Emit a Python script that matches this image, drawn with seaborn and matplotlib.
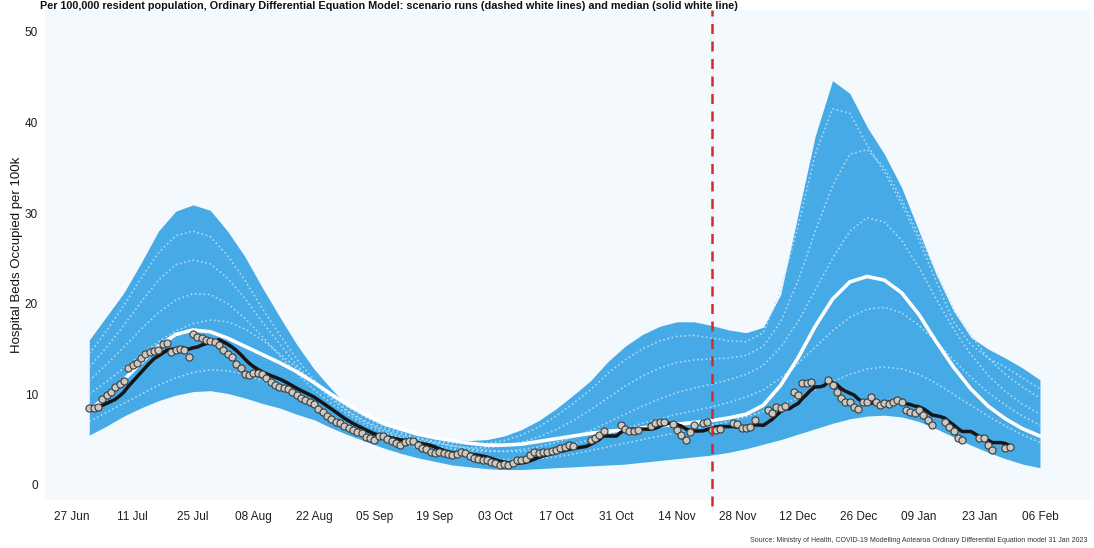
import numpy as np
import pandas as pd
import matplotlib
matplotlib.use("Agg")
import matplotlib.pyplot as plt
import matplotlib.dates as mdates
import seaborn as sns

# ---------------------------------------------------------------------------
# Data
# ---------------------------------------------------------------------------
# Model output sampled every 4 days from 1 Jul 2022
model_start = "2022-07-01"
model_step_days = 4

band_upper = [16.0, 18.6, 21.2, 24.5, 28.0, 30.2, 30.9, 30.3, 28.0, 25.2,
              21.8, 18.6, 15.5, 12.8, 10.6, 8.6, 7.5, 6.6, 6.0, 5.5,
              5.2, 5.0, 4.9, 5.0, 5.4, 6.1, 7.1, 8.4, 9.9, 11.5,
              13.6, 15.3, 16.6, 17.5, 18.0, 18.0, 17.6, 17.1, 16.8, 17.4,
              21.0, 29.8, 38.5, 44.6, 43.2, 39.5, 36.5, 32.8, 28.0, 23.2,
              19.2, 16.3, 15.0, 14.0, 12.9, 11.6]

band_lower = [5.5, 6.5, 7.6, 8.5, 9.3, 9.9, 10.3, 10.4, 10.1, 9.6,
              9.0, 8.5, 7.8, 7.2, 6.3, 5.5, 4.8, 4.1, 3.5, 3.0,
              2.6, 2.2, 2.0, 1.8, 1.7, 1.7, 1.8, 1.9, 2.0, 2.1,
              2.2, 2.3, 2.5, 2.7, 2.9, 3.1, 3.3, 3.6, 4.0, 4.5,
              5.0, 5.6, 6.2, 6.8, 7.3, 7.6, 7.7, 7.5, 7.0, 6.2,
              5.3, 4.4, 3.6, 2.9, 2.3, 1.9]

median_run = [8.2, 9.8, 11.6, 13.5, 15.3, 16.6, 17.1, 16.9, 16.2, 15.3,
              14.4, 13.5, 12.5, 11.3, 10.0, 8.8, 7.8, 6.9, 6.2, 5.6,
              5.2, 4.9, 4.6, 4.4, 4.4, 4.5, 4.8, 5.1, 5.4, 5.7,
              5.9, 6.1, 6.3, 6.5, 6.7, 6.9, 7.1, 7.4, 7.8, 8.8,
              11.0, 14.0, 17.5, 20.5, 22.4, 23.0, 22.6, 21.2, 18.8, 15.8,
              13.0, 10.6, 8.7, 7.3, 6.2, 5.4]

scenario_a = [14.5, 17.0, 19.8, 22.8, 25.6, 27.5, 28.0, 27.4, 25.3, 22.6, 19.5,
              16.6, 13.9, 11.6, 9.7, 8.1, 7.0, 6.2, 5.6, 5.1, 4.8,
              4.6, 4.5, 4.6, 4.9, 5.5, 6.4, 7.6, 9.0, 10.5, 12.3,
              13.8, 15.0, 15.9, 16.4, 16.5, 16.2, 15.9, 15.8, 16.8,
              21.5, 28.5, 36.5, 41.5, 41.0, 37.5, 34.5, 31.0, 27.0, 22.5,
              18.0, 15.5, 14.0, 13.0, 11.8, 10.6]
scenario_b = [13.0, 15.2, 17.6, 20.2, 22.6, 24.3, 24.8, 24.4, 22.8, 20.6, 18.0,
              15.6, 13.2, 11.2, 9.5, 8.0, 6.9, 6.0, 5.4, 4.9, 4.6,
              4.3, 4.1, 4.1, 4.3, 4.7, 5.3, 6.1, 7.1, 8.3, 9.6,
              10.9, 12.0, 12.9, 13.5, 13.8, 13.9, 14.0, 14.3, 15.3,
              18.0, 22.5, 28.0, 33.0, 36.5, 37.0, 35.0, 31.5, 27.5, 23.5,
              19.5, 16.5, 14.0, 12.2, 10.8, 9.6]
scenario_c = [11.5, 13.3, 15.2, 17.2, 19.0, 20.4, 21.1, 21.0, 20.0, 18.4, 16.4,
              14.3, 12.3, 10.5, 9.0, 7.7, 6.6, 5.8, 5.2, 4.7, 4.3,
              4.0, 3.8, 3.7, 3.7, 3.9, 4.2, 4.7, 5.3, 6.0, 6.9,
              7.8, 8.7, 9.5, 10.2, 10.7, 11.1, 11.6, 12.2, 13.2,
              15.2, 18.0, 21.5, 25.0, 28.0, 29.5, 29.0, 27.0, 24.0, 20.5,
              17.2, 14.4, 12.1, 10.3, 8.9, 7.8]
scenario_d = [10.0, 11.4, 12.9, 14.4, 15.8, 17.0, 17.8, 18.2, 18.0, 17.2, 16.0,
              14.5, 12.9, 11.3, 9.8, 8.5, 7.4, 6.5, 5.8, 5.2, 4.7,
              4.3, 4.0, 3.8, 3.7, 3.7, 3.8, 4.1, 4.5, 5.0, 5.6,
              6.2, 6.8, 7.3, 7.8, 8.2, 8.6, 9.1, 9.7, 10.5,
              11.8, 13.4, 15.2, 17.0, 18.5, 19.4, 19.6, 19.0, 17.6, 15.8,
              13.8, 11.9, 10.2, 8.8, 7.6, 6.6]
scenario_e = [7.0, 8.0, 9.0, 10.0, 11.0, 11.8, 12.4, 12.7, 12.6, 12.2, 11.5,
              10.6, 9.6, 8.6, 7.6, 6.7, 5.9, 5.2, 4.6, 4.1, 3.7,
              3.4, 3.1, 2.9, 2.8, 2.8, 2.9, 3.1, 3.4, 3.8, 4.2,
              4.6, 5.0, 5.4, 5.8, 6.2, 6.6, 7.0, 7.5, 8.1,
              8.8, 9.6, 10.5, 11.4, 12.2, 12.8, 13.0, 12.8, 12.2, 11.2,
              10.0, 8.8, 7.6, 6.5, 5.5, 4.7]
scenario_runs = [scenario_a, scenario_b, scenario_c, scenario_d, scenario_e]

# Reported daily occupancy per 100k from 1 Jul 2022 (NaN = no report)
obs_start = "2022-07-01"
nan = np.nan
obs_values = [
    8.5, 8.5, 8.6, 9.5, 9.9, 10.3, 10.8, 11.1, 11.5, 12.9,
    13.2, 13.5, 14.0, 14.5, 14.7, 14.8, 14.9, 15.5, 15.7, 14.7,
    14.9, 15.0, 14.9, 14.1, 16.6, 16.3, 16.2, 16.0, 15.9, 15.8,
    15.4, 14.9, 14.5, 14.1, 13.3, 12.9, 12.2, 12.1, 12.3, 12.4,
    12.2, 11.8, 11.4, 11.0, 10.8, 10.7, 10.6, 10.3, 9.9, 9.6,
    9.4, 9.2, 8.9, 8.4, 8.0, 7.6, 7.3, 7.0, 6.8, 6.5,
    6.3, 6.1, 5.8, 5.7, 5.3, 5.2, 5.0, 5.4, 5.4, 5.1,
    4.9, 4.6, 4.4, 4.7, 4.9, 4.8, 4.4, 4.1, 4.0, 3.6,
    3.5, 3.6, 3.5, 3.4, 3.3, 3.4, 3.6, 3.5, 3.2, 3.0,
    2.9, 2.7, 2.7, 2.5, 2.4, 2.2, 2.3, 2.2, 2.4, 2.7,
    2.8, 2.9, 3.3, 3.6, 3.5, 3.6, 3.6, 3.7, 3.9, 4.1,
    4.2, 4.4, 4.3, nan, nan, nan, 5.0, 5.2, 5.5, 5.9,
    nan, nan, nan, 6.6, 6.2, 5.9, 6.0, 6.1, nan, nan,
    6.5, 6.8, 6.9, 7.0, nan, 6.7, 6.1, 5.5, 5.0, 5.8,
    6.6, nan, 6.8, 7.0, 6.1, 6.1, 6.2, nan, nan, 6.8,
    6.7, 6.3, 6.3, 6.4, 7.2, nan, nan, 8.3, 7.9, 8.6,
    8.5, 8.7, nan, 10.3, 9.9, 11.2, 11.3, 11.4, nan, nan,
    nan, 11.6, 11.0, 10.3, 9.6, 9.2, 9.1, 8.6, 8.4, 9.1,
    9.2, 9.7, 9.1, 8.8, 9.0, 8.9, 9.2, 9.4, 9.2, 8.3,
    8.1, 7.9, 8.3, 7.7, 7.2, 6.6, nan, nan, 7.0, 6.4,
    5.9, 5.2, 5.0, nan, nan, nan, 5.2, 5.2, 4.4, 3.9,
    nan, nan, 4.1, 4.2,
]

forecast_date = "2022-11-22"
tick_start, tick_end = "2022-06-27", "2023-02-06"

title_text = ("Per 100,000 resident population, Ordinary Differential Equation Model: "
              "scenario runs (dashed white lines) and median (solid white line)")
source_text = ("Source: Ministry of Health, COVID-19 Modelling Aotearoa Ordinary "
               "Differential Equation model 31 Jan 2023")
y_label = "Hospital Beds Occupied per 100k"

# ---------------------------------------------------------------------------
# Frames
# ---------------------------------------------------------------------------
model_dates = pd.date_range(model_start, periods=len(band_upper),
                            freq=f"{model_step_days}D")
model = pd.DataFrame({"date": model_dates, "upper": band_upper,
                      "lower": band_lower, "median": median_run})

runs = pd.concat(
    [pd.DataFrame({"date": model_dates, "beds": r, "run": i})
     for i, r in enumerate(scenario_runs)], ignore_index=True)

obs = pd.DataFrame({"date": pd.date_range(obs_start, periods=len(obs_values), freq="D"),
                    "beds": obs_values})
obs["trend"] = obs["beds"].rolling(7, min_periods=1).mean()
obs_points = obs.dropna(subset=["beds"])

# ---------------------------------------------------------------------------
# Figure
# ---------------------------------------------------------------------------
sns.set_theme(style="white")
plt.rcParams["font.family"] = ["Liberation Sans", "DejaVu Sans"]

fig = plt.figure(figsize=(10.94, 5.48), dpi=100)
ax = fig.add_axes([45 / 1094, 48 / 548, 1045 / 1094, 490 / 548])
ax.set_facecolor("#f3f9fd")
for s in ax.spines.values():
    s.set_visible(False)

band_color = "#45aae6"
ax.fill_between(model["date"], model["lower"], model["upper"],
                color=band_color, linewidth=0, zorder=1)

sns.lineplot(data=runs, x="date", y="beds", units="run", estimator=None,
             color="#bfe2f8", linewidth=1.2, linestyle=(0, (1, 1.6)),
             alpha=0.85, ax=ax, zorder=2, legend=False)

sns.lineplot(data=model, x="date", y="median", color="white",
             linewidth=2.6, ax=ax, zorder=3)

sns.lineplot(data=obs, x="date", y="trend", color="#151515",
             linewidth=2.5, ax=ax, zorder=4)

sns.scatterplot(data=obs_points, x="date", y="beds", s=26,
                color="#cdc8c0", edgecolor="#3c3c3c", linewidth=0.8,
                ax=ax, zorder=5, legend=False)

ax.axvline(pd.Timestamp(forecast_date), ymin=-0.012, ymax=1.0,
           color="#d42a2a", linewidth=1.8, linestyle=(0, (4, 3)),
           zorder=6, clip_on=False)

# Axes scales
ax.set_xlim(pd.Timestamp("2022-06-20") + pd.Timedelta(hours=18),
            pd.Timestamp("2023-02-17") + pd.Timedelta(hours=14))
ax.set_ylim(-1.66, 52.4)
ax.set_yticks([0, 10, 20, 30, 40, 50])
ax.set_xticks(pd.date_range(tick_start, tick_end, freq="14D"))
ax.xaxis.set_major_formatter(mdates.DateFormatter("%d %b"))
ax.tick_params(axis="both", labelsize=8.5, colors="#9a9a9a",
               labelcolor="#1e1e1e", length=2, width=0.8, pad=3)
ax.tick_params(axis="x", pad=6)
ax.grid(False)

ax.set_xlabel("")
ax.set_ylabel(y_label, fontsize=9.5, color="#111111", labelpad=1)

fig.text(40 / 1094, 0.999, title_text, fontsize=7.8, fontweight="bold",
         ha="left", va="top", color="#111111")
fig.text(1087 / 1094, 1 - 541 / 548, source_text, fontsize=5,
         ha="right", va="center", color="#333333")

fig.savefig("out.png", dpi=100, facecolor="white")
